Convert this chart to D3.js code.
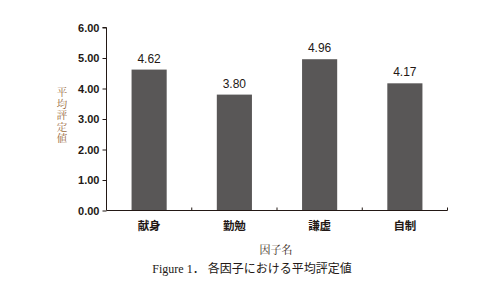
<!DOCTYPE html>
<html><head><meta charset="utf-8">
<script src="https://cdn.jsdelivr.net/npm/d3@7"></script>
<style>body{margin:0;background:#fff}svg{display:block}</style>
</head><body>
<script>
const categories = ["献身", "勤勉", "謙虚", "自制"];
const values = [4.62, 3.80, 4.96, 4.17];
const yTicks = [0, 1, 2, 3, 4, 5, 6];
const yTitle = "平均評定値";
const xTitle = "因子名";
const caption = "Figure 1\uff0e 各因子における平均評定値";

(function () {
const W = 492, H = 285;
const svg = d3.select("body").append("svg").attr("width", W).attr("height", H);
const mLeft = 106.5, mRight = 447.5, mTop = 27.5, mBottom = 210.5;

const x = d3.scaleBand().domain(categories).range([mLeft, mRight]).paddingInner(0.588).paddingOuter(0.294);
const y = d3.scaleLinear().domain([0, 6]).range([mBottom, mTop]);

// bars
svg.selectAll("rect.bar").data(values).join("rect")
  .attr("x", (d, i) => x(categories[i]))
  .attr("y", d => y(d))
  .attr("width", x.bandwidth())
  .attr("height", d => y(0) - y(d))
  .attr("fill", "#595757");

// y axis
const yAxis = svg.append("g").attr("transform", `translate(${mLeft},0)`)
  .call(d3.axisLeft(y).tickValues(yTicks).tickFormat(d3.format(".2f")).tickSize(4).tickPadding(3));
yAxis.select(".domain").attr("stroke", "#231815").attr("d", `M-4,${mTop}H0V${mBottom}`);
yAxis.selectAll(".tick line").attr("stroke", "#231815");
yAxis.selectAll(".tick text").attr("font-family", "Liberation Sans, Arial, sans-serif")
  .attr("font-size", 11).attr("font-weight", "bold").attr("fill", "#231815");

// x axis
const xAxis = svg.append("g").attr("transform", `translate(0,${mBottom})`)
  .call(d3.axisBottom(x).tickSize(0).tickPadding(11));
xAxis.select(".domain").attr("stroke", "#231815").attr("d", `M${mLeft},0H${mRight}V-3`);
xAxis.selectAll(".tick text").attr("font-family", "Noto Sans CJK JP, sans-serif")
  .attr("font-size", 11.5).attr("font-weight", "bold").attr("fill", "#231815");
// boundary ticks
const bounds = categories.slice(1).map(c => x(c) - x.step() * x.paddingInner() / 2);
svg.append("g").selectAll("line").data(bounds).join("line")
  .attr("x1", d => d).attr("x2", d => d)
  .attr("y1", mBottom).attr("y2", mBottom - 3)
  .attr("stroke", "#231815");

// value labels
svg.selectAll("text.val").data(values).join("text")
  .attr("x", (d, i) => x(categories[i]) + x.bandwidth() / 2)
  .attr("y", d => y(d) - 7)
  .attr("text-anchor", "middle")
  .attr("font-family", "Liberation Sans, Arial, sans-serif")
  .attr("font-size", 12).attr("fill", "#231815")
  .text(d => d.toFixed(2));

// y title vertical
svg.append("text")
  .attr("x", 62).attr("y", 87)
  .style("writing-mode", "vertical-rl")
  .style("letter-spacing", "1px")
  .attr("font-family", "Noto Serif CJK JP, Noto Sans CJK JP, serif")
  .attr("font-size", 10.5).attr("fill", "#9a6a3c")
  .text(yTitle);

svg.append("text").attr("x", 276).attr("y", 254).attr("text-anchor", "middle")
  .attr("font-family", "Noto Serif CJK JP, Noto Sans CJK JP, serif")
  .attr("font-size", 11).attr("fill", "#3a2a20").text(xTitle);

svg.append("text").attr("x", 252).attr("y", 273).attr("text-anchor", "middle")
  .attr("font-family", "Liberation Serif, Noto Sans CJK JP, serif")
  .attr("font-size", 12).attr("fill", "#231815").text(caption);
})();
</script>
</body></html>
